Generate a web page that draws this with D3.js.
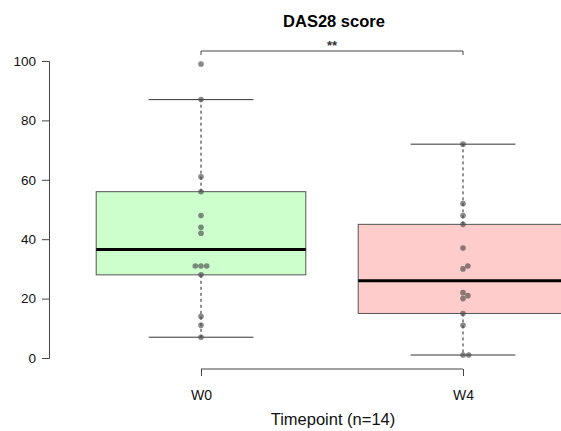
<!DOCTYPE html>
<html>
<head>
  <meta charset="utf-8">
  <title>DAS28 score</title>
  <script src="https://cdn.jsdelivr.net/npm/d3@7"></script>
  <style>
    body { margin: 0; background: #fff; }
    svg { font-family: "Liberation Sans", Arial, sans-serif; }
  </style>
</head>
<body>
<div id="chart"></div>
<script>
  // data
  var groups = ['W0', 'W4'];
  var w0Values = [99, 87, 61, 56, 48, 44, 42, 31, 31, 31, 28, 14, 11, 7];
  var w4Values = [72, 52, 48, 45, 37, 31, 30, 22, 21, 20, 15, 11, 1, 1];
  var boxColors = ['#ccffcc', '#ffcccc'];
  var yTicks = [0, 20, 40, 60, 80, 100];
  var sigLabel = '**';

  var w = 561, h = 431;

  var svg = d3.select('#chart').append('svg')
      .attr('width', w)
      .attr('height', h);

  var x = d3.scaleLinear().domain([0.5, 2.5]).range([70, 594]);
  var y = d3.scaleLinear().domain([0, 100]).range([358, 61]);

  // R style boxplot stats (hinges + 1.5 IQR whiskers)
  function stats(vals) {
    var s = vals.slice().sort(d3.ascending), n = s.length;
    var half = Math.ceil(n / 2);
    var lo = s.slice(0, half), hi = s.slice(n - half);
    var q1 = d3.median(lo), q3 = d3.median(hi), med = d3.median(s);
    var iqr = q3 - q1;
    var wlo = d3.min(s.filter(function(v){ return v >= q1 - 1.5 * iqr; }));
    var whi = d3.max(s.filter(function(v){ return v <= q3 + 1.5 * iqr; }));
    return {q1: q1, q3: q3, med: med, lo: wlo, hi: whi};
  }

  var data = [w0Values, w4Values].map(function(v, i){
    return {name: groups[i], values: v, s: stats(v), color: boxColors[i], pos: i + 1};
  });

  var boxW = x(1.4) - x(0.6);
  var capW = boxW / 2;

  var g = svg.selectAll('g.box').data(data).enter().append('g').attr('class', 'box');

  // whiskers
  g.append('line')
      .attr('x1', function(d){ return x(d.pos); }).attr('x2', function(d){ return x(d.pos); })
      .attr('y1', function(d){ return y(d.s.q3); }).attr('y2', function(d){ return y(d.s.hi); })
      .attr('stroke', '#222').attr('stroke-dasharray', '3,3');
  g.append('line')
      .attr('x1', function(d){ return x(d.pos); }).attr('x2', function(d){ return x(d.pos); })
      .attr('y1', function(d){ return y(d.s.q1); }).attr('y2', function(d){ return y(d.s.lo); })
      .attr('stroke', '#222').attr('stroke-dasharray', '3,3');
  ['hi', 'lo'].forEach(function(k){
    g.append('line')
        .attr('x1', function(d){ return x(d.pos) - capW / 2; })
        .attr('x2', function(d){ return x(d.pos) + capW / 2; })
        .attr('y1', function(d){ return y(d.s[k]); })
        .attr('y2', function(d){ return y(d.s[k]); })
        .attr('stroke', '#333');
  });

  // box
  g.append('rect')
      .attr('x', function(d){ return x(d.pos) - boxW / 2; })
      .attr('width', boxW)
      .attr('y', function(d){ return y(d.s.q3); })
      .attr('height', function(d){ return y(d.s.q1) - y(d.s.q3); })
      .attr('fill', function(d){ return d.color; })
      .attr('stroke', '#555');
  g.append('line')
      .attr('x1', function(d){ return x(d.pos) - boxW / 2; })
      .attr('x2', function(d){ return x(d.pos) + boxW / 2; })
      .attr('y1', function(d){ return y(d.s.med); })
      .attr('y2', function(d){ return y(d.s.med); })
      .attr('stroke', '#000').attr('stroke-width', 3);

  // swarm points
  var dia = 5.7;
  function swarm(vals, cx) {
    var placed = [];
    vals.slice().sort(d3.ascending).forEach(function(v){
      var py = y(v), best = 0;
      var cands = [0];
      placed.forEach(function(p){
        var dy = Math.abs(p.y - py);
        if (dy < dia) {
          var dx = Math.sqrt(dia * dia - dy * dy);
          cands.push(p.dx + dx, p.dx - dx);
        }
      });
      cands.sort(function(a, b){ return Math.abs(a) - Math.abs(b) || b - a; });
      for (var i = 0; i < cands.length; i++) {
        var ok = placed.every(function(p){
          var ddx = p.dx - cands[i], ddy = p.y - py;
          return Math.sqrt(ddx * ddx + ddy * ddy) >= dia - 0.01;
        });
        if (ok) { best = cands[i]; break; }
      }
      placed.push({dx: best, y: py});
    });
    return placed.map(function(p){ return {x: cx + p.dx, y: p.y}; });
  }

  data.forEach(function(d){
    svg.append('g').selectAll('circle')
        .data(swarm(d.values, x(d.pos)))
        .enter().append('circle')
        .attr('cx', function(p){ return p.x; })
        .attr('cy', function(p){ return p.y; })
        .attr('r', 2.8)
        .attr('fill', '#4a4a4a')
        .attr('fill-opacity', 0.65);
  });

  // y axis
  var yAxis = d3.axisLeft(y).tickValues(yTicks).tickSize(7).tickPadding(6);
  var ya = svg.append('g').attr('transform', 'translate(49,0)').call(yAxis);
  ya.select('.domain').attr('stroke', '#444');
  ya.selectAll('.tick line').attr('stroke', '#444');
  ya.selectAll('text').attr('font-size', 13.5).attr('fill', '#111')
      .attr('font-family', '"Liberation Sans", Arial, sans-serif');

  // x axis
  var xAxis = d3.axisBottom(x).tickValues([1, 2]).tickFormat(function(d){ return groups[d - 1]; })
      .tickSizeOuter(0).tickSize(7).tickPadding(14);
  var xa = svg.append('g').attr('transform', 'translate(0,369)').call(xAxis);
  xa.select('.domain').attr('stroke', '#444').attr('d', 'M' + x(1) + ',0H' + x(2));
  xa.selectAll('.tick line').attr('stroke', '#444');
  xa.selectAll('text').attr('font-size', 14).attr('fill', '#111')
      .attr('font-family', '"Liberation Sans", Arial, sans-serif');

  // significance bracket
  var by = 51;
  svg.append('path')
      .attr('d', 'M' + x(1) + ',' + (by + 4) + 'V' + by + 'H' + x(2) + 'V' + (by + 4))
      .attr('fill', 'none').attr('stroke', '#444');
  svg.append('text')
      .attr('x', x(1.5)).attr('y', by - 1)
      .attr('text-anchor', 'middle').attr('font-size', 13).attr('font-weight', 'bold')
      .attr('fill', '#333')
      .text(sigLabel);

  // titles
  svg.append('text')
      .attr('x', 334).attr('y', 27)
      .attr('text-anchor', 'middle').attr('font-size', 16.5).attr('font-weight', 'bold')
      .text('DAS28 score');
  svg.append('text')
      .attr('x', 333).attr('y', 425)
      .attr('text-anchor', 'middle').attr('font-size', 16.5).attr('fill', '#111')
      .text('Timepoint (n=14)');
</script>
</body>
</html>
